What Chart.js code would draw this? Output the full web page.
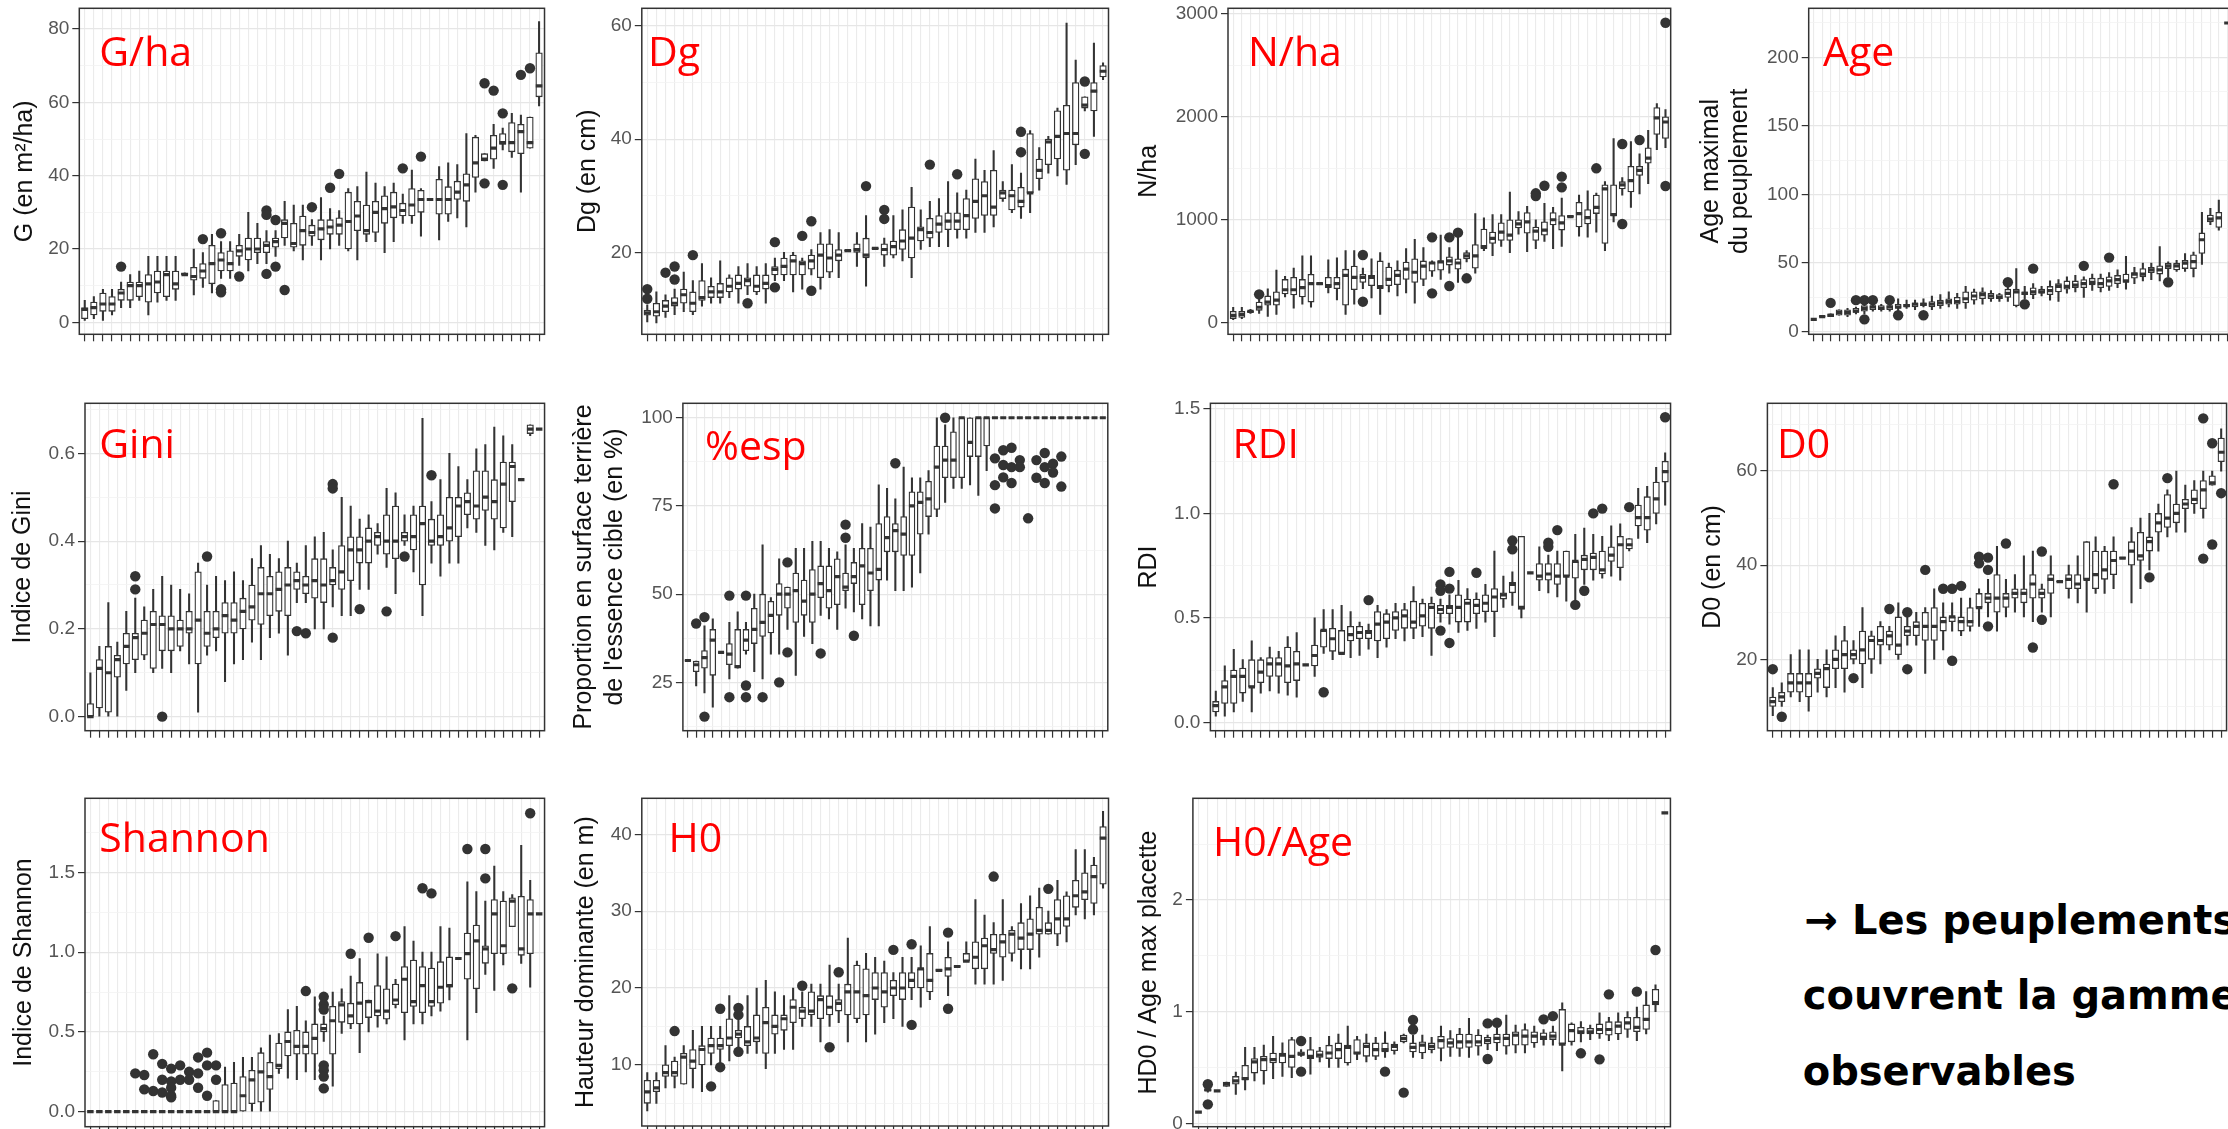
<!DOCTYPE html>
<html><head><meta charset="utf-8">
<script src="https://cdn.jsdelivr.net/npm/chart.js@4.4.1/dist/chart.umd.min.js"></script>
<style>
html,body{margin:0;padding:0;background:#fff;}
body{width:2228px;height:1129px;overflow:hidden;position:relative;}
.lbl{position:absolute;font-family:'Open Sans',sans-serif;font-size:41px;line-height:41px;color:#ff0000;white-space:nowrap;}
.note{position:absolute;font-family:'DejaVu Sans',sans-serif;font-weight:bold;font-size:40px;line-height:40px;color:#000;white-space:nowrap;}
</style></head><body>
<script>
// ---------------- DATA ----------------
// G/ha
const ghaLo  = [0.5,1,0.5,2,4,4,6,2,5.5,6, 6,13,7.5,9.5,8,12,12,15.5,14,16, 16,18,21,19.5,17,21,17,20,21,19.5, 17,22,22,19,22,27,27,23.5,33.5,22.5, 27.5,28.5,26,35.5,44,42,47,45,35.5,47.5,59];
const ghaQ1  = [1,2,3,3,6,6,7,5.5,8,7, 9,13,11.5,12,10.5,14,14,18,17,19, 19,20.5,23,20.5,21,23.5,22.5,24,24,20, 25,24,24.5,27,28.5,29,29,30,33.5,29.5, 29.5,33.5,33,39.5,44,44.5,48.5,46.5,46,47.5,61.5];
const ghaMed = [3.5,4,5,5,8,10,10,10.5,11,13, 10.5,13,12.5,14,16,17,16,19.5,20,20, 21,22,27,21.5,25,24.5,25.5,26,26.5,27.5, 29,25,30,31,31.5,30.5,32,33.5,33.5,33.5, 33.5,35.5,37.5,43.5,44.5,47.5,49,49,52,49,64.5];
const ghaQ3  = [4,5.5,8,7,9,11,11,13,14,14, 14,13.5,15,16,21,19,19.5,21,23,23, 22,23,28,27,29,26.5,28,28,28.5,35.5, 33,32,33,34.5,35.5,32.5,36.5,36,33.5,39, 37,38.5,40.5,50.5,46,51,51.5,54.5,54,56,73.5];
const ghaHi  = [6,7,9,9,11,13,14,18,18,18, 18,13.5,20,19,24,22,22,24,30,27, 25,25,33,32,32,28,34,31,30.5,36.5, 37,41,38,37,38,35,41.5,36.5,33.5,42.5, 43.5,43,51.5,51,46,54,53,57,56.5,56,82];
const ghaOut = [[5,15.2],[14,22.7],[16,24.3],[16,9],[16,8.2],[18,12.5],[21,30.5],[21,29.3],[21,13.2],[22,27.9],[22,15.2],[23,8.8],[26,31.4],[28,36.7],[29,40.5],[36,42],[38,45.2],[45,65.2],[45,37.9],[46,63.2],[47,57],[47,37.5],[49,67.5],[50,69.3]];
const ghaTicks = [0,20,40,60,80];
// Dg
const dgLo  = [7.7,7.5,8.5,9,9.5,9,10.5,11,11,12, 11,12.5,12.5,11,15,15,13,13.5,16,13.5, 15.5,15.5,20.2,17.5,14,20.6,17.5,19,18.5,15.5, 20.5,21,21,21,22.5,22.5,23.5,23.5,24.5,29, 27,26,27,31,34,33.5,32,35.5,45,40.5,50.5];
const dgQ1  = [8.9,8.7,9.5,10.5,11,9.5,11.5,12,12,13, 13.5,14,13,13.5,16,16,16,16,17,15.5, 16.5,18.5,20.2,20,19,20.6,19.5,19.5,20.5,19, 22,22.5,23.5,24,24,24,26,26.5,26.5,29.5, 27.5,28,30.5,33,35.5,36.5,34.5,39,45.5,45,51];
const dgMed = [9.3,9.5,10.5,11,12.5,11,12,13,13,14, 14.5,15,14,14.5,17,17.5,18.5,18,18.5,19.5, 19,19.5,20.3,20.5,19.5,20.7,20.5,21,22,22.5, 24,23.5,25,25.5,25.5,26.5,29,30,28,30.5, 30,29,30.5,34.5,39.5,40.5,41,41,46,48.5,52];
const dgQ3  = [9.8,11,11.5,12,13.5,13,15,14,14.5,15.5, 16,15.5,16,16,17.5,19,19.5,18.5,19.5,21.5, 21.5,20.5,20.4,21.5,22.5,20.8,21.5,22,24,28, 24.5,26,26.5,27,27,29.5,33,32.5,34.5,31, 31,31.5,41,36.5,40,45,46,50,47.5,50,53];
const dgHi  = [10.7,13,12.5,13.5,16.5,15,18,15.5,18.5,16, 17.5,18,17.5,18,19,20,20,19,20.5,23.5, 24,23.5,20.4,23.5,26.5,20.8,22.5,26.5,27.5,31.5, 27.5,29,29.5,32.5,30.5,31,36.5,34.5,38,32.5, 35.5,34,41.5,38.5,40.5,45.5,60.5,54,47.5,57,53.5];
const dgOut = [[1,13.5],[1,11.8],[3,16.4],[4,17.5],[4,15.2],[6,19.5],[12,11],[15,21.8],[15,13.8],[18,22.9],[19,25.5],[19,13.2],[25,31.7],[27,27.5],[27,25.9],[32,35.5],[35,33.8],[42,41.3],[42,37.7],[49,50.2],[49,37.4]];
const dgTicks = [20,40,60];
// N/ha
const nhaLo  = [30,40,90,90,60,80,250,140,180,150, 370,290,220,80,180,330,240,80,300,260, 290,190,360,450,420,480,390,590,480,700, 650,740,680,860,690,720,790,720,740,1025, 840,830,880,700,980,1240,1120,1250,1350,1680,1700];
const nhaQ1  = [40,50,100,120,170,170,280,270,250,200, 370,340,330,170,320,390,360,330,360,370, 420,390,420,500,510,560,520,620,530,720, 770,800,800,920,870,800,850,950,900,1025, 930,960,1060,770,1040,1300,1270,1430,1550,1830,1790];
const nhaMed = [70,80,110,150,200,220,320,320,340,380, 380,360,380,460,440,440,440,350,420,460, 520,490,550,580,590,600,580,650,650,740, 820,880,850,960,980,890,900,1000,970,1030, 1060,1020,1120,1300,1050,1340,1380,1480,1600,1990,1950];
const nhaQ3  = [110,110,115,200,260,300,420,440,420,470, 390,440,440,520,550,470,460,600,540,510, 590,620,600,590,600,640,620,680,760,910, 880,970,1000,1000,1070,930,980,1070,1040,1040, 1170,1100,1240,1340,1340,1370,1520,1520,1700,2090,2000];
const nhaHi  = [150,150,130,230,330,510,450,530,650,650, 390,610,630,700,700,530,620,680,580,600, 720,810,730,600,850,730,900,700,1060,1020, 1050,1050,1270,1080,1130,1000,1160,1120,1210,1040, 1240,1280,1260,1370,1790,1410,1760,1640,1870,2130,2070];
const nhaOut = [[4,275],[16,658],[16,204],[24,829],[24,285],[26,829],[26,356],[27,875],[28,431],[36,1257],[36,1230],[37,1331],[39,1419],[39,1315],[43,1500],[46,1736],[46,959],[48,1775],[51,2915],[51,1328]];
const nhaTicks = [0,1000,2000,3000];
// Age
const ageLo  = [9,10.5,11,12,11,13,13,15,15,15, 15,17,16,18,16,17,18,17,17,20, 20,22,22,22,18,24,24,26,23,22, 28,29,25,30,29,30,32,31,35,37, 38,37,40,44,44,40,49,78,74,225,225];
const ageQ1  = [9,11,11,12,12,14,15,16,16,16, 17,18,18,19,18,19,20,20,21,23, 24,24,24,25,19,27,27,28,27,29, 31,32,32,34,32,33,35,36,39,40, 43,42,46,45,46,46,57,80,76,225,225];
const ageMed = [9,11,12,14,14,15,17,18,17,18, 18,19,20,20,20,21,22,22,24,26, 27,26,25,28,29,28,29,29,30,33, 33,34,35,36,35,37,38,37,42,42, 45,45,48,48,50,51,67,82,83,225,225];
const ageQ3  = [9,11.5,13,16,16,17,19,19,19,19, 20,20,21,21,22,23,24,25,29,29, 29,28,27,31,31,29,32,31,33,35, 37,37,38,39,39,40,41,42,43,46, 47,48,50,50,52,56,72,85,87,225,225];
const ageHi  = [9,12,13,16,17,18,22,22,20,21, 24,23,23,24,26,27,29,28,33,31, 32,30,28,33,46,33,35,33,37,38, 40,41,40,42,42,43,45,55,47,50, 50,62,51,52,57,58,87,90,96,225,225];
const ageOut = [[3,21],[6,23],[7,23],[7,9],[8,23],[10,23],[11,12],[14,12],[24,36],[26,20],[27,46],[33,48],[36,54],[43,36]];
const ageTicks = [0,50,100,150,200];
// Gini
const giniLo  = [0,0,0,0,0.06,0.1,0.13,0.1,0.11,0.1, 0.15,0.12,0.01,0.14,0.15,0.08,0.12,0.13,0.17,0.13, 0.18,0.19,0.14,0.26,0.26,0.2,0.2,0.25,0.23,0.23, 0.29,0.29,0.37,0.34,0.28,0.39,0.33,0.23,0.35,0.32, 0.35,0.35,0.43,0.42,0.39,0.38,0.42,0.41,0.54,0.64,0.655];
const giniQ1  = [0,0.02,0.01,0.09,0.12,0.13,0.14,0.11,0.15,0.15, 0.16,0.19,0.12,0.16,0.18,0.19,0.19,0.2,0.22,0.21, 0.23,0.24,0.23,0.29,0.28,0.27,0.26,0.3,0.29,0.31, 0.35,0.35,0.39,0.37,0.36,0.4,0.38,0.3,0.39,0.39, 0.4,0.41,0.46,0.45,0.47,0.45,0.43,0.49,0.54,0.645,0.655];
const giniMed = [0,0.11,0.1,0.13,0.16,0.18,0.19,0.21,0.21,0.2, 0.2,0.2,0.22,0.19,0.2,0.23,0.22,0.24,0.25,0.28, 0.28,0.29,0.3,0.31,0.3,0.31,0.3,0.31,0.33,0.38, 0.38,0.4,0.41,0.4,0.4,0.41,0.41,0.44,0.4,0.41, 0.43,0.48,0.49,0.48,0.5,0.49,0.53,0.57,0.54,0.655,0.655];
const giniQ3  = [0.03,0.13,0.16,0.14,0.19,0.19,0.22,0.24,0.23,0.23, 0.22,0.24,0.33,0.24,0.24,0.26,0.26,0.27,0.3,0.34, 0.32,0.33,0.34,0.33,0.32,0.36,0.36,0.34,0.39,0.41, 0.41,0.43,0.42,0.46,0.48,0.42,0.46,0.48,0.45,0.46, 0.5,0.5,0.51,0.56,0.56,0.54,0.58,0.58,0.54,0.665,0.655];
const giniHi  = [0.1,0.16,0.26,0.17,0.24,0.27,0.25,0.29,0.32,0.3, 0.29,0.28,0.35,0.3,0.32,0.31,0.33,0.31,0.36,0.39, 0.37,0.36,0.4,0.35,0.39,0.41,0.42,0.38,0.5,0.48, 0.45,0.46,0.44,0.52,0.51,0.46,0.48,0.68,0.49,0.54, 0.6,0.57,0.54,0.61,0.62,0.66,0.64,0.62,0.54,0.665,0.655];
const giniOut = [[6,0.32],[6,0.29],[9,0],[14,0.365],[24,0.195],[25,0.19],[28,0.53],[28,0.52],[28,0.18],[31,0.245],[34,0.24],[36,0.365],[39,0.55]];
const giniTicks = [0,0.2,0.4,0.6];
// %esp
const espLo  = [31,24,22,18,33.5,26,29,33,28,26, 33,33,40,27,38,36,44,43,40,46, 45,43,41,41,54,51,51,52,56,67, 72,76,80,80,81,78,85,100,100,100, 100,100,100,100,100,100,100,100,100,100,100];
const espQ1  = [31,28,29,27,33.5,30,29,34,36,38, 39,44,46,42,44,42,49,46,47,51, 53,47,51,54,62,62,61,61,67,72, 74,83,83,83,89,89,92,100,100,100, 100,100,100,100,100,100,100,100,100,100,100];
const espMed = [31.2,30,32,37,33.5,33,29.5,37,40,42, 44,50,50,51,48,50,53,51,55,52, 55,58,56,57,66,68,67,75,76,77, 86,88,88,100,93,100,100,100,100,100, 100,100,100,100,100,100,100,100,100,100,100];
const espQ3  = [31.4,31,34,40,33.6,36,40,40,46,50, 48,53,52,56,54,57,58,58,60,56, 59,63,63,70,72,70,72,79,79,82, 92,92,96,100,100,100,100,100,100,100, 100,100,100,100,100,100,100,100,100,100,100];
const espHi  = [31.4,31,41,43,33.6,42,45,42,50,64, 49,60,52,63,63,65,65,63,62,64, 63,70,69,81,80,77,86,83,83,85, 100,98,100,100,100,100,100,100,100,100, 100,100,100,100,100,100,100,100,100,100,100];
const espOut = [[2,41.7],[3,43.5],[3,15.3],[6,49.6],[6,20.8],[8,49.6],[8,24.1],[8,20.8],[10,20.8],[12,25],[13,59],[13,33.5],[17,33.2],[20,69.7],[20,66],[21,38.2],[26,87.1],[32,100],[38,88.5],[38,80.9],[38,74.3],[39,90.8],[39,86.6],[39,83.1],[40,91.5],[40,86],[40,81.5],[41,88],[41,86],[42,71.5],[43,88],[43,83],[44,90],[44,86],[44,81.5],[45,87],[45,84.5],[46,89],[46,80.5]];
const espTicks = [25,50,75,100];
// RDI
const rdiLo  = [0.03,0.03,0.05,0.1,0.05,0.14,0.15,0.14,0.13,0.12, 0.275,0.22,0.33,0.3,0.33,0.31,0.32,0.35,0.31,0.36, 0.4,0.39,0.4,0.41,0.32,0.48,0.47,0.43,0.44,0.45, 0.48,0.41,0.55,0.56,0.5,0.715,0.63,0.62,0.6,0.58, 0.58,0.66,0.68,0.69,0.7,0.68,0.82,0.88,0.86,0.95,1.04];
const rdiQ1  = [0.05,0.09,0.09,0.14,0.17,0.19,0.22,0.22,0.19,0.2, 0.275,0.27,0.36,0.34,0.33,0.39,0.4,0.4,0.39,0.4, 0.44,0.45,0.45,0.46,0.45,0.52,0.52,0.48,0.48,0.52, 0.53,0.53,0.59,0.62,0.54,0.715,0.68,0.68,0.66,0.7, 0.69,0.73,0.73,0.71,0.77,0.74,0.83,0.94,0.92,1.0,1.15];
const rdiMed = [0.08,0.17,0.22,0.22,0.17,0.24,0.28,0.28,0.27,0.28, 0.275,0.32,0.44,0.4,0.33,0.42,0.43,0.43,0.47,0.48, 0.5,0.51,0.48,0.51,0.55,0.54,0.55,0.55,0.57,0.56, 0.57,0.6,0.61,0.66,0.55,0.715,0.7,0.71,0.7,0.7, 0.77,0.78,0.79,0.73,0.8,0.85,0.85,0.98,0.98,1.07,1.2];
const rdiQ3  = [0.1,0.2,0.25,0.26,0.3,0.3,0.31,0.31,0.36,0.34, 0.275,0.37,0.44,0.45,0.44,0.46,0.46,0.44,0.53,0.52, 0.53,0.54,0.58,0.57,0.57,0.56,0.56,0.61,0.59,0.59, 0.61,0.64,0.62,0.67,0.89,0.715,0.76,0.76,0.76,0.82, 0.77,0.8,0.81,0.82,0.84,0.89,0.88,1.04,1.08,1.15,1.25];
const rdiHi  = [0.15,0.27,0.35,0.3,0.39,0.31,0.36,0.34,0.41,0.43, 0.275,0.5,0.54,0.54,0.56,0.53,0.48,0.47,0.56,0.54, 0.57,0.57,0.65,0.59,0.6,0.59,0.61,0.68,0.64,0.62, 0.66,0.82,0.7,0.72,0.89,0.715,0.84,0.8,0.82,0.82, 0.9,0.93,0.9,0.89,0.94,0.95,0.88,1.12,1.13,1.22,1.29];
const rdiOut = [[13,0.144],[18,0.585],[26,0.66],[26,0.63],[26,0.439],[27,0.72],[27,0.64],[27,0.38],[30,0.716],[34,0.87],[34,0.828],[38,0.86],[38,0.84],[39,0.92],[41,0.562],[42,0.63],[43,1.0],[44,1.023],[47,1.03],[51,1.46]];
const rdiTicks = [0,0.5,1,1.5];
// D0
const d0Lo  = [8,10,12,11,9,13,12,14,13,19, 14,17,19,22,20,23,23,17,20,22, 26,25,26,27,29,26,29,30,29,28, 30,29,36.5,33,32,30,34,34,35,41.5, 32,35,39,43,46,47,47,51,50,57,60];
const d0Q1  = [10,11,13,13,12,16,14,18,18,20, 19,20,23,23,21,25,25,24,24,26, 28,26,27,31,32,30,31,33,32,33, 33,34,36.5,35,35,37,35,37,38,41.5, 40,41,43,47,48,49,52,53,52,57,62];
const d0Med = [11,12,15,15,15,17,18,20,21,21, 22,24,24,25,23,26,27,27,27,28, 29,28,28,31,33,33,33,34,34,36, 34,37,36.5,37,36,37,38,39,41,41.5, 43,42,45,49,50,51,53,54,56,57.5,64];
const d0Q3  = [12,13,17,17,17,18,19,22,24,22, 26,25,27,26,29,27,28,30,31,29, 29,29,31,34,34,38,34,35,35,38, 35,38,36.6,38,38,45,43,43,43,41.6, 45,47,46,51,55,53,54,56,58,59,67];
const d0Hi  = [14,15,21,22,22,20,22,25,27,24, 31,26,28,27,32,29,30,31,35,32, 32,33,33,35,37,44,37,38,42,43, 36,42,36.6,40,42,45,46,44,46,41.6, 48,50,51,53,56,60,57,58,60,60,69];
const d0Out = [[1,17.9],[2,7.8],[10,16],[14,30.7],[16,30],[16,17.9],[18,39],[20,35],[21,35],[21,19.7],[22,35.6],[24,41.8],[24,40.4],[25,41.6],[25,39],[25,27],[27,44.6],[30,22.5],[31,42.9],[31,28.4],[39,57.2],[43,37.4],[45,58.5],[49,71.2],[49,41.4],[50,65.9],[50,44.4],[51,55.3]];
const d0Ticks = [20,40,60];
// Shannon
const shLo  = [0,0,0,0,0,0,0,0,0,0, 0,0,0,0,0,0,0,0,0,0, 0,0.24,0.21,0.2,0.25,0.2,0.44,0.16,0.49,0.52, 0.37,0.5,0.53,0.55,0.65,0.45,0.55,0.55,0.6,0.63, 0.7,0.96,0.45,0.62,0.86,0.76,0.92,1.16,0.93,0.78,1.24];
const shQ1  = [0,0,0,0,0,0,0,0,0,0, 0,0,0,0,0,0,0,0,0.05,0.06, 0.14,0.27,0.35,0.36,0.36,0.36,0.5,0.36,0.56,0.55, 0.55,0.59,0.6,0.58,0.67,0.62,0.66,0.62,0.66,0.68, 0.78,0.96,0.83,0.77,0.93,0.99,0.99,1.16,0.98,0.99,1.24];
const shMed = [0,0,0,0,0,0,0,0,0,0, 0,0,0,0,0,0,0,0.1,0.2,0.25, 0.22,0.29,0.44,0.41,0.41,0.46,0.52,0.57,0.67,0.6, 0.68,0.69,0.63,0.63,0.7,0.83,0.69,0.79,0.69,0.78, 0.79,0.96,0.99,1.07,1.02,1.24,1.04,1.32,1.02,1.24,1.24];
const shQ3  = [0,0,0,0,0,0,0,0,0,0, 0,0,0,0,0.07,0.17,0.18,0.22,0.26,0.37, 0.31,0.43,0.5,0.51,0.5,0.55,0.55,0.66,0.69,0.68, 0.81,0.7,0.79,0.77,0.8,0.91,0.95,0.91,0.9,0.94, 0.97,0.96,1.12,1.17,1.04,1.33,1.32,1.34,1.35,1.33,1.24];
const shHi  = [0,0,0,0,0,0,0,0,0,0, 0,0,0,0,0.07,0.28,0.31,0.34,0.34,0.4, 0.48,0.49,0.64,0.66,0.57,0.72,0.6,0.75,0.77,0.85, 0.96,0.7,0.99,0.97,0.83,1.16,1.07,1.0,1.0,1.16, 1.15,0.96,1.44,1.38,1.32,1.54,1.38,1.36,1.67,1.45,1.24];
const shOut = [[6,0.24],[7,0.23],[7,0.14],[8,0.36],[8,0.13],[9,0.3],[9,0.2],[9,0.12],[10,0.27],[10,0.19],[10,0.15],[10,0.1],[10,0.09],[11,0.29],[11,0.2],[12,0.25],[12,0.2],[13,0.34],[13,0.24],[13,0.15],[14,0.37],[14,0.29],[14,0.1],[15,0.29],[15,0.2],[25,0.756],[27,0.72],[27,0.67],[27,0.64],[27,0.29],[27,0.26],[27,0.22],[27,0.146],[30,0.99],[32,1.09],[35,1.1],[38,1.4],[39,1.368],[43,1.646],[45,1.646],[45,1.462],[48,0.773],[50,1.87]];
const shTicks = [0,0.5,1,1.5];
// H0
const h0Lo  = [4,5,7,7,7.5,7,6.5,10,10,10.5, 12,11.5,11.5,9.5,11.5,12,12,15,15,13, 15,15.5,13,15.5,13,14,15.5,16,15,18.5, 17.5,18.5,22.3,19,22.8,23.5,20.5,20.5,20.5,21, 23.5,22.5,22.5,24,27,25.5,26,29.5,29,29.5,33];
const h0Q1  = [5,6.5,8.5,8.5,7.5,9.5,10,11.5,12,12.5, 13.5,12.5,13,11.5,14,14.5,15.5,16,16.5,16, 16.5,17,16.5,16,16.5,18.5,17.5,19,18.5,20, 20,19.5,22.3,21.5,22.8,23.5,22.5,22.5,24.5,24, 24.5,25,25,27,27,27,28,30.5,31.5,31,33.5];
const h0Med = [6.5,7,9,9,11,10.5,12,12.5,12.5,13.5, 14,13,13.5,15.5,15,16,17.5,17,17,18.5, 17.5,18,19.5,19.5,19,20,19.5,20,20,21, 22.5,21,22.3,22.5,22.8,23.5,24,25.5,25,26, 27,26.5,27,27.5,27.5,29,29,32,32.5,34.5,39.5];
const h0Q3  = [8,8,10,10.5,11.5,12,12.5,13.5,13.5,16, 14.5,15,16.5,17.5,16.5,16.5,18.5,17.5,19.5,19, 19,18.5,20.5,23,22.5,22,22,21,22,22, 22.5,24.5,22.4,24,22.9,24.5,26,26.5,27,27, 27.5,28.5,29,30.5,28.5,31.5,32,34,35,36,41];
const h0Hi  = [9,9,12.5,11,12.5,14.5,15,15,15,19, 16,19,20,21,19.5,19,20,19.5,20.5,20.5, 23,20.5,26.5,23.5,24.5,24,23.5,22,24,24, 25.5,28,22.4,26,22.9,26,31.5,29.5,28.5,31.5, 28,31,32,33,30,34,32.5,38,38,37,43];
const h0Out = [[4,14.4],[8,7.2],[9,17.3],[9,9.7],[11,17.4],[11,16.5],[11,11.7],[18,20.3],[21,12.3],[22,22.05],[28,24.96],[30,25.7],[30,15.2],[34,27.2],[34,17.3],[39,34.5],[45,32.9]];
const h0Ticks = [10,20,30,40];
// H0/Age
const haLo  = [0.1,0.28,0.29,0.33,0.26,0.3,0.38,0.35,0.4,0.42, 0.41,0.6,0.44,0.55,0.5,0.5,0.52,0.57,0.55,0.57, 0.59,0.62,0.72,0.59,0.58,0.63,0.56,0.6,0.6,0.59, 0.61,0.66,0.65,0.62,0.63,0.63,0.68,0.7,0.7,0.47, 0.7,0.73,0.75,0.76,0.74,0.75,0.77,0.74,0.8,1.0,2.78];
const haQ1  = [0.1,0.29,0.29,0.33,0.35,0.39,0.45,0.47,0.54,0.54, 0.5,0.61,0.58,0.59,0.58,0.58,0.54,0.62,0.6,0.6, 0.64,0.65,0.73,0.64,0.63,0.66,0.67,0.68,0.67,0.68, 0.69,0.71,0.72,0.69,0.7,0.7,0.72,0.75,0.75,0.71, 0.73,0.8,0.8,0.8,0.79,0.8,0.84,0.82,0.84,1.06,2.78];
const haMed = [0.1,0.3,0.29,0.35,0.38,0.4,0.55,0.57,0.57,0.61, 0.6,0.62,0.6,0.61,0.63,0.66,0.68,0.63,0.69,0.66, 0.66,0.69,0.76,0.68,0.7,0.69,0.74,0.72,0.73,0.73, 0.73,0.74,0.76,0.76,0.79,0.78,0.78,0.77,0.78,0.71, 0.83,0.82,0.82,0.84,0.84,0.87,0.9,0.86,0.93,1.08,2.78];
const haQ3  = [0.1,0.31,0.29,0.37,0.42,0.52,0.58,0.6,0.63,0.63, 0.75,0.64,0.66,0.65,0.7,0.72,0.7,0.75,0.72,0.72, 0.72,0.71,0.79,0.72,0.73,0.72,0.78,0.76,0.8,0.8, 0.79,0.77,0.8,0.8,0.82,0.84,0.82,0.81,0.82,1.02, 0.89,0.86,0.85,0.89,0.91,0.91,0.95,0.95,1.06,1.2,2.78];
const haHi  = [0.1,0.32,0.29,0.37,0.46,0.68,0.68,0.7,0.78,0.72, 0.77,0.66,0.77,0.68,0.78,0.8,0.87,0.78,0.8,0.77, 0.82,0.73,0.8,0.79,0.79,0.77,0.87,0.83,0.85,0.94, 0.84,0.79,0.85,0.97,0.88,0.89,0.87,0.84,0.87,1.08, 0.9,0.91,0.88,0.99,0.95,0.99,1.0,1.04,1.18,1.24,2.78];
const haOut = [[2,0.35],[2,0.17],[12,0.737],[12,0.463],[21,0.463],[23,0.275],[24,0.925],[24,0.84],[32,0.895],[32,0.576],[33,0.9],[38,0.931],[39,0.96],[42,0.627],[44,0.573],[45,1.155],[48,1.179],[50,1.552]];
const haTicks = [0,1,2];

const noteLines = ['\u2192 Les peuplements', 'couvrent la gamme', 'observables'];

// ---------------- LAYOUT (positions / styles) ----------------
const panels = [
 {lo:ghaLo,q1:ghaQ1,med:ghaMed,q3:ghaQ3,hi:ghaHi,out:ghaOut,ticks:ghaTicks,dec:0,title:'G (en m²/ha)',label:'G/ha',
  g:{colX:0,left:79.3,right:546.4,top:8.3,bottom:334.3,ymin:-3.27,ymax:85.65,minor:10,titleX:25,lh:29,lx:99.3,lb:66.7}},
 {lo:dgLo,q1:dgQ1,med:dgMed,q3:dgQ3,hi:dgHi,out:dgOut,ticks:dgTicks,dec:0,title:'Dg (en cm)',label:'Dg',
  g:{colX:560,left:641.8,right:1110.4,top:8.3,bottom:334.3,ymin:5.51,ymax:63.13,minor:10,titleX:588,lh:29,lx:648,lb:66.7}},
 {lo:nhaLo,q1:nhaQ1,med:nhaMed,q3:nhaQ3,hi:nhaHi,out:nhaOut,ticks:nhaTicks,dec:0,title:'N/ha',label:'N/ha',
  g:{colX:1125,left:1228,right:1672.7,top:8.3,bottom:334.3,ymin:-113,ymax:3055,minor:500,titleX:1149,lh:29,lx:1248,lb:66.7}},
 {lo:ageLo,q1:ageQ1,med:ageMed,q3:ageQ3,hi:ageHi,out:ageOut,ticks:ageTicks,dec:0,title:['Age maximal','du peuplement'],label:'Age',
  g:{colX:1690,left:1808.7,right:2243,top:8.3,bottom:334.3,ymin:-1.9,ymax:235.7,minor:25,titleX:1711,lh:29,lx:1823,lb:66.7}},
 {lo:giniLo,q1:giniQ1,med:giniMed,q3:giniQ3,hi:giniHi,out:giniOut,ticks:giniTicks,dec:1,title:'Indice de Gini',label:'Gini',
  g:{colX:0,left:85,right:546.4,top:403.3,bottom:730.7,ymin:-0.032,ymax:0.714,minor:0.1,titleX:23,lh:29,lx:99.3,lb:458.3}},
 {lo:espLo,q1:espQ1,med:espMed,q3:espQ3,hi:espHi,out:espOut,ticks:espTicks,dec:0,title:['Proportion en surface terrière',"de l'essence cible (en %)"],label:'%esp',
  g:{colX:560,left:682.9,right:1109.6,top:403.3,bottom:730.7,ymin:11.3,ymax:104.1,minor:12.5,titleX:584.6,lh:30.4,lx:705,lb:460}},
 {lo:rdiLo,q1:rdiQ1,med:rdiMed,q3:rdiQ3,hi:rdiHi,out:rdiOut,ticks:rdiTicks,dec:1,title:'RDI',label:'RDI',
  g:{colX:1125,left:1210.4,right:1672.7,top:403.3,bottom:730.7,ymin:-0.04,ymax:1.527,minor:0.25,titleX:1149,lh:29,lx:1232.5,lb:458.3}},
 {lo:d0Lo,q1:d0Q1,med:d0Med,q3:d0Q3,hi:d0Hi,out:d0Out,ticks:d0Ticks,dec:0,title:'D0 (en cm)',label:'D0',
  g:{colX:1690,left:1767.4,right:2228.5,top:403.3,bottom:730.7,ymin:4.83,ymax:74.4,minor:10,titleX:1713,lh:29,lx:1777,lb:458.3}},
 {lo:shLo,q1:shQ1,med:shMed,q3:shQ3,hi:shHi,out:shOut,ticks:shTicks,dec:1,title:'Indice de Shannon',label:'Shannon',
  g:{colX:0,left:85,right:546.4,top:798.3,bottom:1126.7,ymin:-0.094,ymax:1.964,minor:0.25,titleX:24,lh:29,lx:99.3,lb:852.3}},
 {lo:h0Lo,q1:h0Q1,med:h0Med,q3:h0Q3,hi:h0Hi,out:h0Out,ticks:h0Ticks,dec:0,title:'Hauteur dominante (en m)',label:'H0',
  g:{colX:560,left:641.8,right:1110.4,top:798.3,bottom:1126,ymin:2.05,ymax:44.68,minor:5,titleX:586,lh:29,lx:668.6,lb:852.7}},
 {lo:haLo,q1:haQ1,med:haMed,q3:haQ3,hi:haHi,out:haOut,ticks:haTicks,dec:0,title:'HD0 / Age max placette',label:'H0/Age',
  g:{colX:1125,left:1192.9,right:1672.7,top:798.3,bottom:1126.7,ymin:-0.03,ymax:2.91,minor:0.5,titleX:1149,lh:29,lx:1213,lb:856.7}}
];

const framePlugin = {
  id: 'frame',
  afterDatasetsDraw(chart) {
    const a = chart.chartArea, c = chart.ctx;
    c.save();
    c.strokeStyle = '#333';
    c.lineWidth = 1.5;
    c.strokeRect(a.left, a.top, a.right - a.left, a.bottom - a.top);
    c.restore();
  }
};

function gridValues(G) {
  const out = [];
  const k0 = Math.ceil(G.ymin / G.minor - 1e-9), k1 = Math.floor(G.ymax / G.minor + 1e-9);
  for (let k = k0; k <= k1; k++) out.push(Math.round(k * G.minor * 1e6) / 1e6);
  return out;
}

function makePanel(p) {
  const G = p.g;
  const xH = 12, padB = 8;
  const cx = Math.floor(G.colX);
  const cy = Math.floor(G.top) - 20;
  const cw = Math.ceil(G.right) + 4 - cx;
  const ch = Math.ceil(G.bottom - cy + xH + padB);
  const padTop = G.top - cy;
  const padRight = cw - (G.right - cx);
  const padBottom = ch - xH - (G.bottom - cy);
  const yW = G.left - cx;
  const canvas = document.createElement('canvas');
  canvas.width = cw; canvas.height = ch;
  canvas.style.cssText = `position:absolute;left:${cx}px;top:${cy}px;width:${cw}px;height:${ch}px;`;
  document.body.appendChild(canvas);

  const n = p.med.length;
  const spacing = (G.right - G.left) / (n + 0.2);
  const boxW = spacing * 0.72;
  const idx = p.med.map((_, i) => i + 1);
  const tol = Math.abs(G.minor) * 1e-3;
  const isMajor = v => p.ticks.some(t => Math.abs(t - Number(v)) < tol);
  const fmt = v => (Math.abs(v) < 1e-9 ? 0 : Number(v)).toFixed(p.dec);
  const yVals = gridValues(G);
  const titlePad = G.titleX - cx - G.lh / 2;

  new Chart(canvas, {
    type: 'bar',
    data: {
      datasets: [
        {type:'bar', label:'whisker', data: idx.map((x,i)=>({x, y:[p.lo[i], p.hi[i]]})),
         backgroundColor:'#333', borderWidth:0, barThickness:1.4, grouped:false, order:4},
        {type:'bar', label:'box', data: idx.map((x,i)=>({x, y:[p.q1[i], p.q3[i]]})),
         backgroundColor:'#ffffff', borderColor:'#333', borderWidth:1.3, borderSkipped:false,
         barThickness: boxW, grouped:false, order:3},
        {type:'line', label:'median', data: idx.map((x,i)=>({x, y:p.med[i]})), showLine:false,
         pointStyle:'line', pointRadius: boxW/2, pointHoverRadius: boxW/2, pointBorderWidth:3.2,
         pointBorderColor:'#333', pointBackgroundColor:'#333', borderColor:'#333', order:2},
        {type:'scatter', label:'outlier', data: p.out.map(o=>({x:o[0], y:o[1]})),
         pointRadius:5.2, pointHoverRadius:5.2, pointBackgroundColor:'#333', pointBorderWidth:0, order:1}
      ]
    },
    options: {
      responsive:false, animation:false, devicePixelRatio:1, events:[],
      layout:{padding:{left:0, top:padTop, right:padRight, bottom:padBottom}},
      plugins:{legend:{display:false}, tooltip:{enabled:false}, title:{display:false}},
      scales:{
        x:{type:'linear', min:0.4, max:n+0.6, offset:false,
           ticks:{display:false, stepSize:1, includeBounds:false, autoSkip:false},
           grid:{offset:false, color:'#ebebeb', lineWidth:1.1, drawTicks:true, tickLength:7, tickColor:'#333', tickWidth:1.2},
           border:{display:false},
           afterFit: s => { s.height = xH; }},
        y:{type:'linear', min:G.ymin, max:G.ymax,
           afterBuildTicks: s => { s.ticks = yVals.map(v => ({value: v})); },
           ticks:{autoSkip:false, color:'#555', padding:3,
                  font:{family:"'Liberation Sans', Arial, sans-serif", size:19},
                  callback: v => isMajor(v) ? fmt(v) : ''},
           grid:{color: c => isMajor(c.tick.value) ? '#e6e6e6' : '#f2f2f2',
                 lineWidth: c => isMajor(c.tick.value) ? 1.2 : 0.8,
                 tickLength:7, tickWidth:1.2,
                 tickColor: c => isMajor(c.tick.value) ? '#333' : 'rgba(0,0,0,0)'},
           border:{display:false},
           title:{display:true, text:p.title, color:'#111',
                  font:{family:"'Liberation Sans', Arial, sans-serif", size:25, lineHeight: G.lh + 'px'},
                  padding:{top:titlePad, bottom:0}},
           afterFit: s => { s.width = yW; }}
      }
    },
    plugins:[framePlugin]
  });

  const lbl = document.createElement('div');
  lbl.className = 'lbl';
  lbl.textContent = p.label;
  lbl.style.left = G.lx + 'px';
  lbl.style.top = (G.lb - 36.4) + 'px';
  document.body.appendChild(lbl);
}

panels.forEach(makePanel);

const noteX = [1804.5, 1802.7, 1802.7];
const noteBase = [933.3, 1008.3, 1085];
noteLines.forEach((t, i) => {
  const d = document.createElement('div');
  d.className = 'note';
  d.textContent = t;
  d.style.left = noteX[i] + 'px';
  d.style.top = (noteBase[i] - 33.8) + 'px';
  document.body.appendChild(d);
});
</script>
</body></html>
